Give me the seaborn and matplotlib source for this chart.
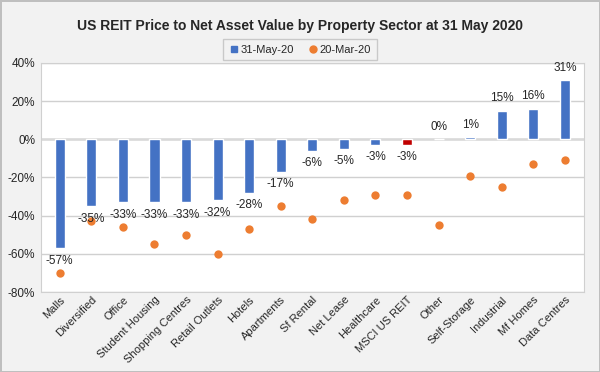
import matplotlib
matplotlib.use("Agg")
import matplotlib.pyplot as plt
from matplotlib.lines import Line2D
from matplotlib.ticker import FuncFormatter
import seaborn as sns

sectors = ["Malls", "Diversified", "Office", "Student Housing", "Shopping Centres",
           "Retail Outlets", "Hotels", "Apartments", "Sf Rental", "Net Lease",
           "Healthcare", "MSCI US REIT", "Other", "Self-Storage", "Industrial",
           "Mf Homes", "Data Centres"]
may_20 = [-57, -35, -33, -33, -33, -32, -28, -17, -6, -5, -3, -3, 0, 1, 15, 16, 31]
mar_20 = [-70, -43, -46, -55, -50, -60, -47, -35, -42, -32, -29, -29, -45, -19, -25, -13, -11]

blue = "#4472C4"
orange = "#ED7D31"
red = "#C00000"
bar_colors = [red if s == "MSCI US REIT" else blue for s in sectors]

sns.set_style("white")
plt.rcParams["font.family"] = ["Liberation Sans", "DejaVu Sans"]

fig = plt.figure(figsize=(6, 3.72), dpi=100, facecolor="#f2f2f2",
                 edgecolor="#bfbfbf", linewidth=2)
ax = fig.add_axes([0.068, 0.215, 0.905, 0.616])
ax.set_facecolor("white")

sns.barplot(x=sectors, y=may_20, hue=sectors, palette=bar_colors, legend=False,
            width=0.32, saturation=1, ax=ax, zorder=3)
sns.stripplot(x=sectors, y=mar_20, color=orange, size=6, jitter=False, ax=ax, zorder=4)

for i, v in enumerate(may_20):
    off = 9 if v >= 0 else -9
    ax.annotate(f"{v}%", (i, v), xytext=(0, off), textcoords="offset points",
                ha="center", va="center", fontsize=8.5, color="#262626", zorder=5)

ax.set_ylim(-80, 40)
ax.set_xlim(-0.6, len(sectors) - 0.4)
ax.set_yticks(range(-80, 41, 20))
ax.yaxis.set_major_formatter(FuncFormatter(lambda y, _: f"{y:.0f}%"))
ax.grid(axis="y", color="#d0d0d0", linewidth=1, zorder=0)
ax.axhline(0, color="#d9d9d9", linewidth=1.8, zorder=1)
for s in ax.spines.values():
    s.set_color("#d0d0d0")
ax.tick_params(axis="y", labelsize=8.5, colors="#262626", length=0, pad=4)
ax.tick_params(axis="x", labelsize=8, colors="#262626", length=0, pad=2)
plt.setp(ax.get_xticklabels(), rotation=45, ha="right", rotation_mode="anchor")
ax.set_xlabel("")
ax.set_ylabel("")

fig.suptitle("US REIT Price to Net Asset Value by Property Sector at 31 May 2020",
             y=0.95, fontsize=10, fontweight="bold", color="#262626")

handles = [
    Line2D([], [], marker="s", linestyle="", color=blue, markersize=5, label="31-May-20"),
    Line2D([], [], marker="o", linestyle="", color=orange, markersize=5, label="20-Mar-20"),
]
leg = fig.legend(handles=handles, loc="center", bbox_to_anchor=(0.5, 0.866), ncol=2,
                 fontsize=8, frameon=True, fancybox=False, handletextpad=0.1,
                 columnspacing=1.2, borderpad=0.5, handlelength=1)
leg.get_frame().set_edgecolor("#bfbfbf")
leg.get_frame().set_facecolor("#f2f2f2")

fig.savefig("out.png", dpi=100, facecolor=fig.get_facecolor(), edgecolor=fig.get_edgecolor())
